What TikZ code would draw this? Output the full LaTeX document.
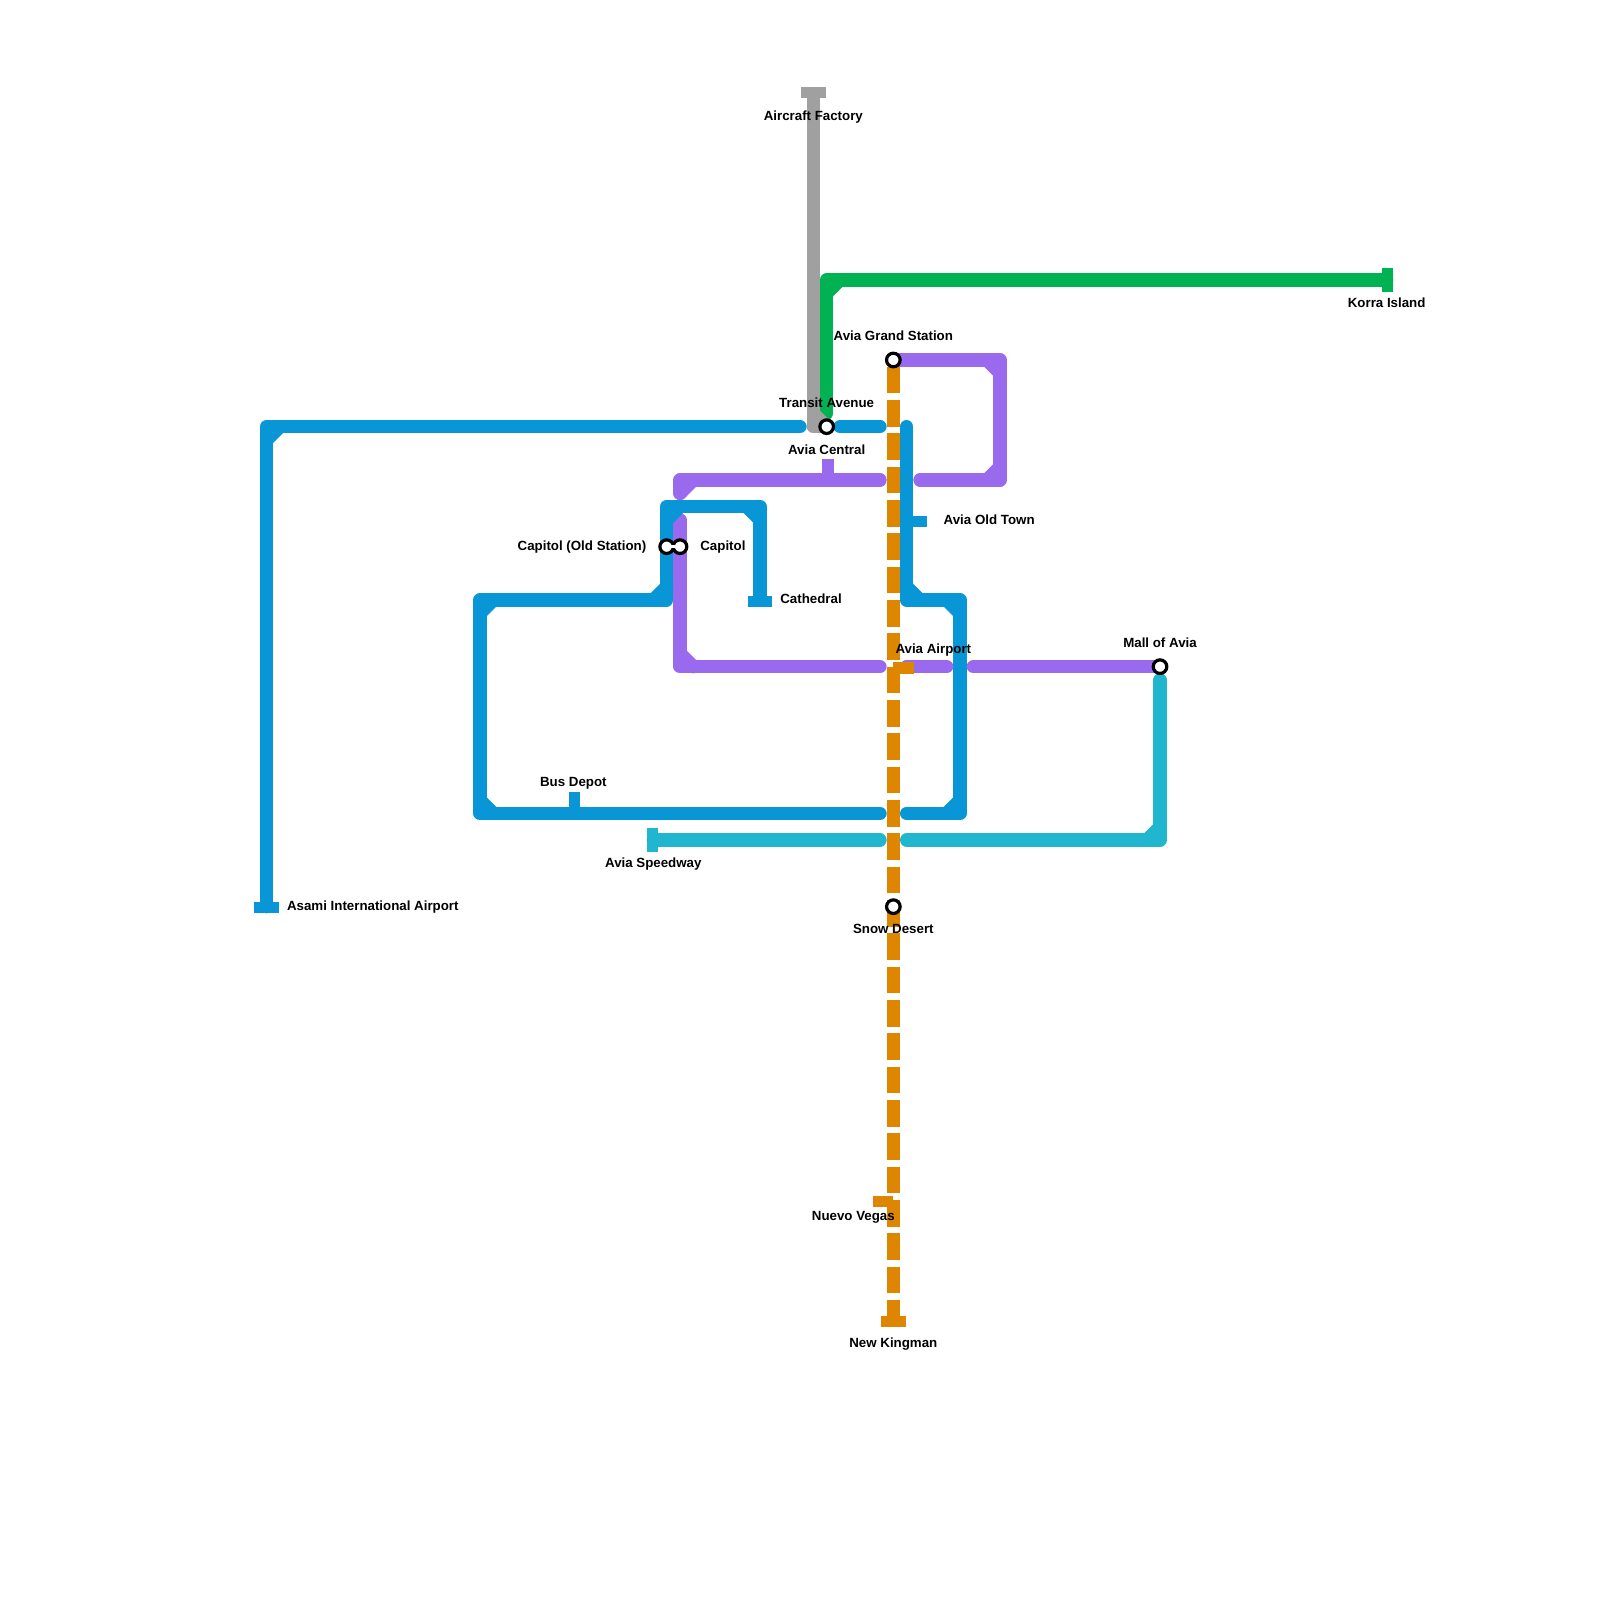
\documentclass[tikz,border=0pt]{standalone}
\usepackage{fontspec}
\setmainfont{Liberation Sans}
\definecolor{linegray}{HTML}{A0A0A0}
\definecolor{linegreen}{HTML}{00B251}
\definecolor{lineblue}{HTML}{0896D7}
\definecolor{linepurple}{HTML}{9A6AEE}
\definecolor{lineteal}{HTML}{21B6CF}
\definecolor{lineorange}{HTML}{DF8600}

\begin{document}
\begin{tikzpicture}[
    x=0.25cm, y=-0.25cm,
    track/.style={line width=0.25cm, line cap=round, line join=round},
    tick/.style={line width=0.207cm, line cap=butt},
    stop/.style={circle, draw=black, fill=white, line width=0.06cm, minimum size=0.255cm, inner sep=0pt},
    lab/.style={font=\bfseries\fontsize{7.1pt}{8pt}\selectfont, inner sep=0pt},
]
\useasboundingbox (0,0) rectangle (120,120);

% named points on the grid
\coordinate (factory) at (61,7);
\coordinate (korra) at (104,21);
\coordinate (asami) at (20,68);
\coordinate (cathedral) at (57,45);
\coordinate (speedway) at (49,63);
\coordinate (kingman) at (67,99.5);

% gray line
\draw[tick, linegray] (60.07,6.92) -- (61.93,6.92);

% green line
\draw[track, linegreen] (korra) -- (62,21) -- (62,31);
\draw[track, linegreen] (62,22) -- (63,21);
\draw[tick, linegreen] (104.08,20.07) -- (104.08,21.93);

% gray over green at the foot
\draw[track, linegray, line cap=butt] (factory) -- (61,32);
\draw[track, linegray] (61,32) -- (62,32);
\draw[track, linegray, line cap=butt] (61,31) -- (62,32);

% blue, far left branch
\draw[track, lineblue] (60,32) -- (20,32) -- (asami);
\draw[track, lineblue] (20,33) -- (21,32);
\draw[tick, lineblue] (19.08,68.08) -- (20.92,68.08);
\draw[track, lineblue] (63,32) -- (66,32);

% blue, right loop
\draw[tick, lineblue] (68,39.1) -- (69.55,39.1);
\draw[track, lineblue] (68,32) -- (68,45) -- (72,45) -- (72,61) -- (68,61);
\foreach \a/\b/\c/\d in {68/44/69/45, 71/45/72/46, 72/60/71/61}{
    \draw[track, lineblue] (\a,\b) -- (\c,\d);
}

% purple
\draw[track, linepurple] (67,27) -- (75,27) -- (75,36) -- (69,36);
\draw[track, linepurple] (74,27) -- (75,28);
\draw[track, linepurple] (75,35) -- (74,36);
\draw[track, linepurple] (66,36) -- (51,36) -- (51,37);
\draw[track, linepurple] (51,37) -- (52,36);
\draw[tick, linepurple] (62.1,36) -- (62.1,34.45);
\draw[track, linepurple] (51,39) -- (51,50) -- (66,50);
\draw[track, linepurple] (51,49) -- (52,50);
\draw[track, linepurple] (68,50) -- (71,50);
\draw[track, linepurple] (73,50) -- (87,50);

% blue, left loop
\draw[tick, lineblue] (43.12,61) -- (43.12,59.42);
\draw[track, lineblue] (66,61) -- (36,61) -- (36,45) -- (50,45) -- (50,38) -- (57,38) -- (cathedral);
\foreach \a/\b/\c/\d in {36/60/37/61, 36/46/37/45, 49/45/50/44, 50/39/51/38, 56/38/57/39}{
    \draw[track, lineblue] (\a,\b) -- (\c,\d);
}
\draw[tick, lineblue] (56.08,45.08) -- (57.92,45.08);

% teal
\draw[track, lineteal] (speedway) -- (66,63);
\draw[track, lineteal] (68,63) -- (87,63) -- (87,51);
\draw[track, lineteal] (86,63) -- (87,62);
\draw[tick, lineteal] (48.94,62.08) -- (48.94,63.92);

% orange, dashed
\draw[line width=0.25cm, lineorange, dash pattern=on 0.5cm off 0.125cm] (67,27.5) -- (kingman);
\draw[tick, lineorange] (67,50.1) -- (68.55,50.1);
\draw[tick, lineorange] (67,90.1) -- (65.45,90.1);
\draw[tick, lineorange] (66.08,99.08) -- (67.92,99.08);

% interchange and stations
\foreach \n/\p in {grand/{67,27}, transit/{62,32}, capold/{50,41}, capnew/{51,41}, mall/{87,50}, snow/{67,68}}{
    \node[stop] (\n) at (\p) {};
}
\draw[line width=0.13cm, black] (capold) -- (capnew);
\draw[line width=0.05cm, white] (50,41) -- (51,41);

% labels
\node[lab] (l1) at (61,8.8) {Aircraft Factory};
\node[lab] (l2) at (104,22.7) {Korra Island};
\node[lab] (l3) at (67,25.18) {Avia Grand Station};
\node[lab] (l4) at (62,30.2) {Transit Avenue};
\node[lab] (l5) at (62,33.7) {Avia Central};
\node[lab, anchor=east] (l6) at (48.5,41) {Capitol (Old Station)};
\node[lab, anchor=west] (l7) at (52.5,41.03) {Capitol};
\node[lab, anchor=west] (l8) at (70.75,38.95) {Avia Old Town};
\node[lab, anchor=west] (l9) at (58.5,44.9) {Cathedral};
\node[lab] (l10) at (70,48.77) {Avia Airport};
\node[lab] (l11) at (87,48.2) {Mall of Avia};
\node[lab] (l12) at (43,58.77) {Bus Depot};
\node[lab] (l13) at (49,64.8) {Avia Speedway};
\node[lab, anchor=west] (l14) at (21.5,68.05) {Asami International Airport};
\node[lab] (l15) at (67,69.65) {Snow Desert};
\node[lab] (l16) at (64,91.3) {Nuevo Vegas};
\node[lab] (l17) at (67,100.77) {New Kingman};
\end{tikzpicture}
\end{document}
